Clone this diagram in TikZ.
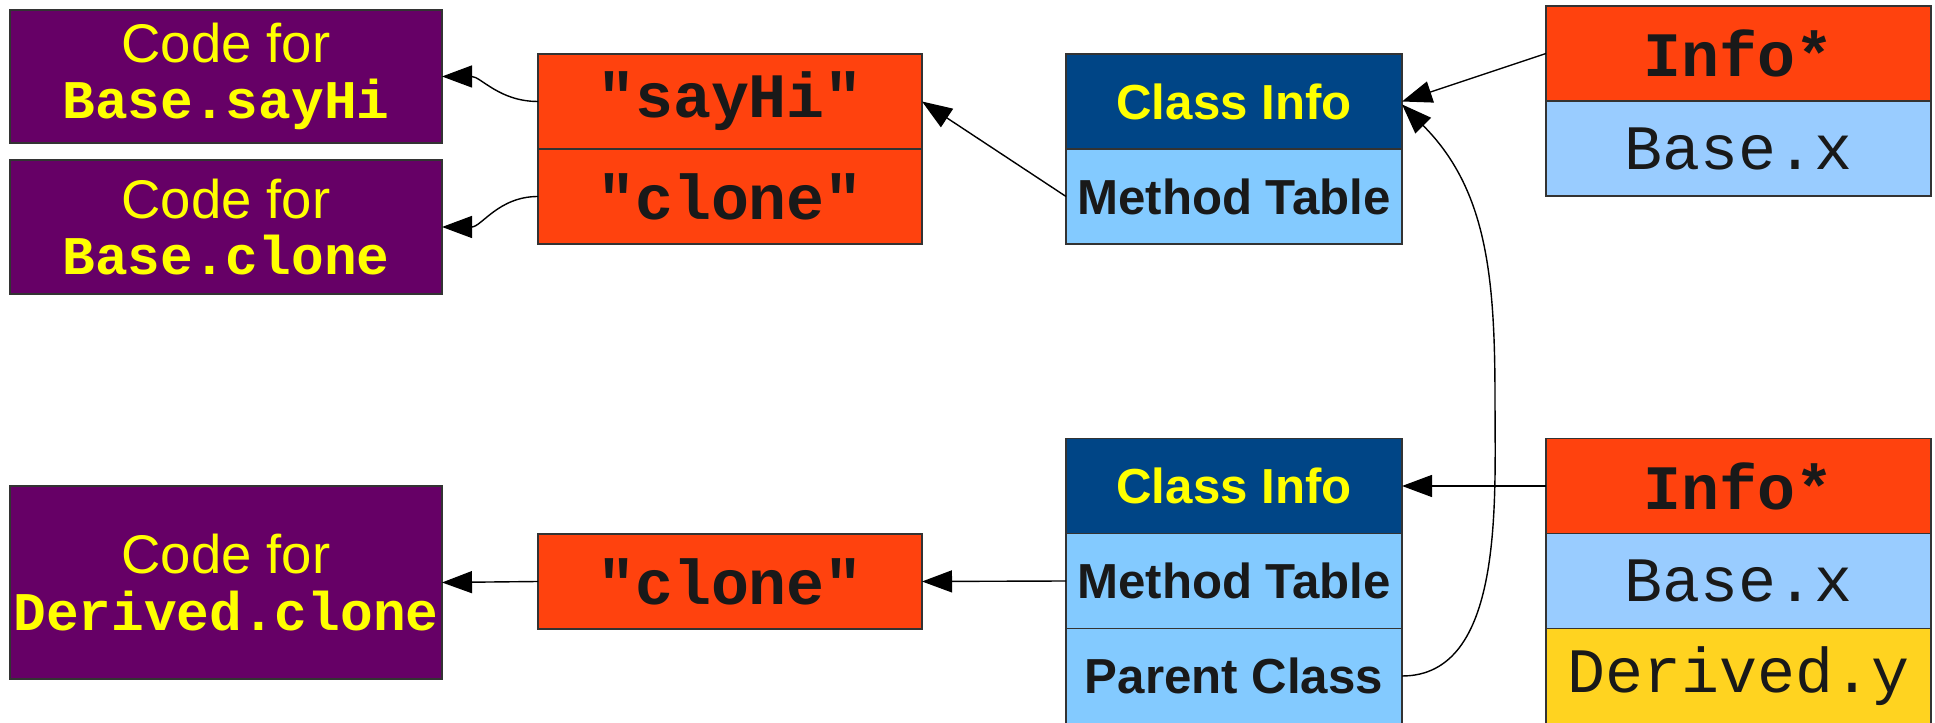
\documentclass[tikz,border=0pt]{standalone}
\usepackage{fontspec}
\setmainfont{Liberation Sans}
\setmonofont{Liberation Mono}
\usetikzlibrary{positioning, arrows.meta}
\definecolor{codepurple}{HTML}{660066}
\definecolor{keyred}{HTML}{FF420E}
\definecolor{classblue}{HTML}{004586}
\definecolor{methodblue}{HTML}{83CAFF}
\definecolor{fieldblue}{HTML}{99CCFF}
\definecolor{fieldyellow}{HTML}{FFD320}
\definecolor{labelyellow}{HTML}{FFFF00}
\tikzset{
	cell/.style={
			rectangle,
			draw=black!80,
			thin,
			inner sep=0pt,
			outer sep=0pt,
			minimum height=9.5mm,
			text=black!90
		},
	codebox/.style={
			cell,
			fill=codepurple,
			text=labelyellow,
			minimum width=43.2mm,
			align=center,
			font=\fontsize{15.5}{16}\selectfont
		},
	keycell/.style={
			cell,
			fill=keyred,
			minimum width=38.4mm,
			font=\ttfamily\bfseries\fontsize{18}{20}\selectfont
		},
	classhead/.style={
			cell,
			fill=classblue,
			text=labelyellow,
			minimum width=33.6mm,
			font=\bfseries\fontsize{14}{16}\selectfont
		},
	classcell/.style={
			classhead,
			fill=methodblue,
			text=black!90
		},
	fieldcell/.style={
			keycell,
			minimum width=38.5mm,
			fill=fieldblue,
			font=\ttfamily\fontsize{18}{20}\selectfont
		},
	ptr/.style={
			thin,
			-{Triangle[length=3mm, width=2.2mm]}
		}
}
\begin{document}
\begin{tikzpicture}
\useasboundingbox (0,0) rectangle (19.35,7.22);

% code blocks
\node[codebox, minimum height=13.3mm] (codehi) at (2.26,6.455) {Code for\\\texttt{\bfseries Base.sayHi}};
\node[codebox, minimum height=13.4mm] (codeclone) at (2.26,4.95) {Code for\\\texttt{\bfseries Base.clone}};
\node[codebox, minimum height=19.3mm] (codedclone) at (2.26,1.395) {Code for\\\texttt{\bfseries Derived.clone}};

% method tables
\node[keycell] (sayhi) at (7.30,6.205) {"sayHi"};
\node[keycell, below=0pt of sayhi] (clone) {"clone"};
\node[keycell] (dclone) at (7.30,1.405) {"clone"};

% class infos
\node[classhead] (ci1) at (12.34,6.205) {Class Info};
\node[classcell, below=0pt of ci1] (mt1) {Method Table};
\node[classhead] (ci2) at (12.34,2.36) {Class Info};
\node[classcell, below=0pt of ci2] (mt2) {Method Table};
\node[classcell, below=0pt of mt2] (pc) {Parent Class};

% objects
\node[keycell, minimum width=38.5mm] (info1) at (17.385,6.685) {Info*};
\node[fieldcell, below=0pt of info1] (bx1) {Base.x};
\node[keycell, minimum width=38.5mm] (info2) at (17.385,2.36) {Info*};
\node[fieldcell, below=0pt of info2] (bx2) {Base.x};
\node[fieldcell, fill=fieldyellow, below=0pt of bx2] (dy) {Derived.y};

\coordinate (parentbend) at (14.95,3.2);

\draw[ptr] (sayhi.west) to[out=180, in=0] (codehi.east);
\draw[ptr] (clone.west) to[out=180, in=0] (codeclone.east);
\draw[ptr] (dclone.west) -- (codedclone.east);

\draw[ptr] (mt1.west) -- (sayhi.east);
\draw[ptr] (mt2.west) -- (dclone.east);

\draw[ptr] (info1.west) -- (ci1.east);
\draw[ptr] (info2.west) -- (ci2.east);

\draw[ptr] (pc.east) to[out=0, in=-90, looseness=0.9] (parentbend)
  to[out=90, in=-45] (ci1.-1);
\end{tikzpicture}
\end{document}
